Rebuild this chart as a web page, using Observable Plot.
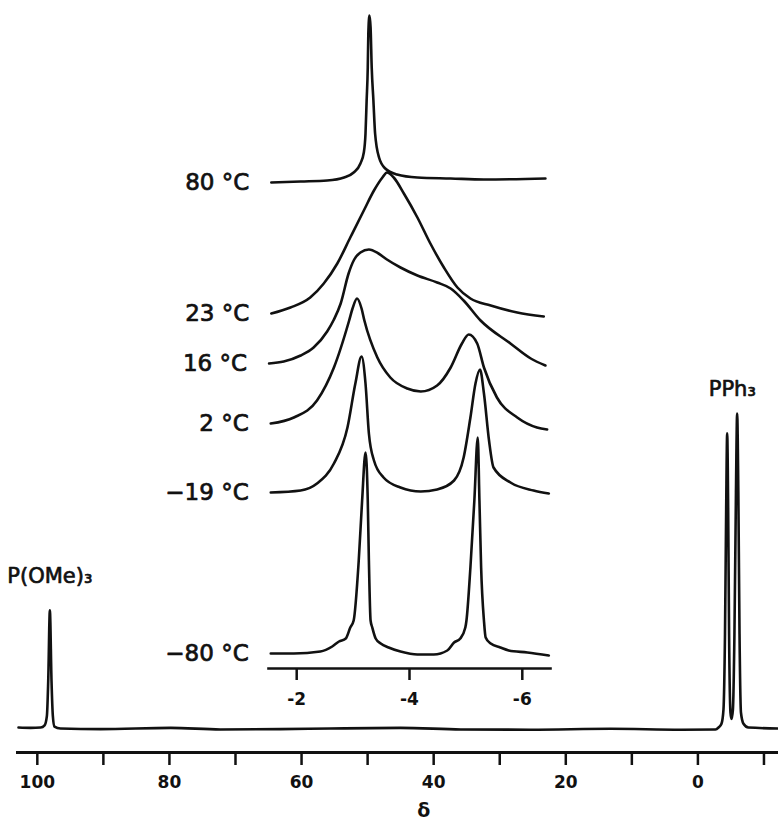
<!DOCTYPE html>
<html><head><meta charset="utf-8">
<script src="https://cdn.jsdelivr.net/npm/d3@7"></script>
<script src="https://cdn.jsdelivr.net/npm/@observablehq/plot@0.6"></script>
<style>
html,body{margin:0;padding:0;background:#fff;}
#chart{position:relative;width:778px;height:826px;overflow:hidden;}
#chart svg{position:absolute;left:0;top:0;}
</style></head><body><div id="chart"></div>
<script>
// ---- Main 31P spectrum: [delta (ppm), relative intensity] ----
const mainSpectrum = [
  [102.85,0.3],[101.0,0.2],[99.5,0.3],[98.9,1.0],[98.55,4],[98.35,15],[98.1,37.5],[97.85,15],[97.65,4],[97.4,0.6],
  [96.5,0],[90.4,-0.2],[79.8,0.2],[72.3,-0.3],[63.2,-0.2],[55.6,0],[45.0,0.2],[35.9,-0.3],[25.3,-0.4],[13.2,-0.1],
  [2.6,-0.4],[-2.66,-0.3],[-3.12,0.3],[-3.57,1.5],[-3.87,6],[-4.10,30],[-4.28,70],[-4.43,93.7],[-4.58,70],[-4.72,30],
  [-4.93,5],[-5.08,3],[-5.30,6],[-5.53,30],[-5.76,75],[-5.94,100],[-6.12,75],[-6.30,30],[-6.52,5],[-6.90,1.5],
  [-7.65,0.3],[-12.2,0]
];
const mainTicks = [100,90,80,70,60,50,40,30,20,10,0,-10];
const mainLabelEvery = 20;
const axisTitle = "δ";
const axisTitleAt = 41.5;
const peakNames = ["P(OMe)₃", "PPh₃"];
const peakWindows = [[90, 105], [-12, -2]];

// ---- Inset: variable-temperature traces, [delta (ppm), stacked intensity] ----
const temps = ["80 °C", "23 °C", "16 °C", "2 °C", "−19 °C", "−80 °C"];
const trace80 = [[-1.55,486],[-2.07,487],[-2.54,488],[-2.84,491],[-3.01,496],[-3.13,505],[-3.19,516],[-3.22,535],[-3.24,568],[-3.26,601],[-3.27,635],[-3.29,653],[-3.31,641],[-3.33,601],[-3.36,568],[-3.39,535],[-3.46,511],[-3.57,500],[-3.78,494],[-4.14,491],[-4.73,490],[-5.32,489],[-6.41,490]];
const trace23 = [[-1.55,355],[-1.89,361],[-2.24,371],[-2.48,385],[-2.72,405],[-2.95,431],[-3.19,458],[-3.37,478],[-3.52,491],[-3.60,496],[-3.72,491],[-3.90,475],[-4.14,451],[-4.37,425],[-4.61,401],[-4.85,381],[-5.08,370],[-5.44,363],[-5.91,356],[-6.38,352]];
const trace16 = [[-1.51,305],[-1.77,307],[-2.07,313],[-2.30,321],[-2.54,337],[-2.66,349],[-2.78,365],[-2.92,395],[-3.02,409],[-3.13,416],[-3.28,419],[-3.45,415],[-3.60,409],[-3.84,401],[-4.14,393],[-4.49,386],[-4.73,380],[-4.96,368],[-5.26,348],[-5.79,325],[-6.15,310],[-6.41,303]];
const trace2 = [[-1.54,245],[-1.95,251],[-2.36,268],[-2.66,301],[-2.93,348],[-2.99,360],[-3.07,370],[-3.15,360],[-3.20,348],[-3.43,311],[-3.66,291],[-3.96,280],[-4.20,277],[-4.49,283],[-4.73,301],[-4.93,325],[-5.05,334],[-5.20,325],[-5.32,301],[-5.55,271],[-5.91,251],[-6.26,241],[-6.44,239]];
const traceM19 = [[-1.54,176],[-2.07,178],[-2.36,185],[-2.66,205],[-2.90,241],[-3.04,285],[-3.15,312],[-3.22,285],[-3.28,235],[-3.37,208],[-3.54,191],[-3.84,181],[-4.20,177],[-4.49,179],[-4.79,188],[-4.96,211],[-5.08,251],[-5.17,285],[-5.25,299],[-5.32,275],[-5.41,228],[-5.49,201],[-5.79,186],[-6.20,178],[-6.47,175]];
const traceM80 = [[-1.54,15],[-1.95,15],[-2.42,17],[-2.63,22],[-2.75,27],[-2.87,30],[-2.95,41],[-3.01,48],[-3.10,108],[-3.16,168],[-3.22,216],[-3.26,168],[-3.28,108],[-3.31,48],[-3.34,41],[-3.40,30],[-3.49,25],[-3.63,21],[-3.84,17],[-4.14,14],[-4.43,14],[-4.67,18],[-4.79,26],[-4.90,30],[-4.99,41],[-5.01,48],[-5.08,101],[-5.15,168],[-5.21,231],[-5.24,168],[-5.27,101],[-5.32,48],[-5.35,31],[-5.44,25],[-5.61,21],[-5.76,18],[-6.09,16],[-6.47,13]];
const insetTicks = [-2, -4, -6];

// ---- build tables ----
const ink = "#111";
const traces = [trace80, trace23, trace16, trace2, traceM19, traceM80];
const insetData = traces.flatMap((t, i) => t.map(([delta, v]) => ({temp: temps[i], delta, v})));
const mainData = mainSpectrum.map(([delta, v]) => ({delta, v}));

// peak labels derived from the spectrum itself
const peakLabels = peakNames.map((name, i) => {
  const [lo, hi] = peakWindows[i];
  const pts = mainData.filter(d => d.delta >= lo && d.delta <= hi);
  const top = d3.max(pts, d => d.v);
  const strong = pts.filter(d => d.v >= top / 2);
  return {name, delta: d3.sum(strong, d => d.delta * d.v) / d3.sum(strong, d => d.v), v: top};
});

const labelStyle = {fontWeight: "normal", fill: ink, stroke: ink, strokeWidth: 0.7, paintOrder: "stroke"};

const main = Plot.plot({
  width: 778, height: 826,
  marginLeft: 17, marginRight: 0, marginTop: 413, marginBottom: 74,
  style: {background: "transparent", fontFamily: "'DejaVu Sans', sans-serif", fontSize: "17px", fontWeight: "bold", color: ink},
  x: {domain: [103, -12.2], label: null},
  y: {domain: [-7.62, 100], axis: null},
  marks: [
    Plot.frame({anchor: "bottom", stroke: ink, strokeWidth: 3}),
    Plot.axisX({ticks: mainTicks, tickSize: 13, tickPadding: 10, strokeWidth: 2.5, label: null,
      tickFormat: d => d % mainLabelEvery === 0 ? String(d) : ""}),
    Plot.line(mainData, {x: "delta", y: "v", curve: "monotone-x", stroke: ink, strokeWidth: 2.6}),
    Plot.text(peakLabels.slice(0, 1), {x: "delta", y: "v", text: "name", dy: -27, lineAnchor: "bottom",
      fontSize: 21, ...labelStyle}),
    Plot.text(peakLabels.slice(1), {x: "delta", y: "v", text: "name", dy: -18, lineAnchor: "bottom",
      fontSize: 21, ...labelStyle}),
    Plot.text([axisTitle], {x: () => axisTitleAt, text: d => d, frameAnchor: "bottom", dy: 58,
      lineAnchor: "middle", fontSize: 19, fontWeight: "bold", fill: ink})
  ]
});

const inset = Plot.plot({
  width: 778, height: 826,
  marginLeft: 268, marginRight: 228, marginTop: 8, marginBottom: 158,
  style: {background: "transparent", fontFamily: "'DejaVu Sans', sans-serif", fontSize: "17px", fontWeight: "bold", color: ink},
  x: {domain: [-1.5, -6.5], label: null},
  y: {domain: [0, 660], axis: null},
  marks: [
    Plot.frame({anchor: "bottom", stroke: ink, strokeWidth: 2.6}),
    Plot.axisX({ticks: insetTicks, tickSize: 12, tickPadding: 12, strokeWidth: 2.5, label: null,
      tickFormat: d => String(d)}),
    Plot.line(insetData, {x: "delta", y: "v", z: "temp", curve: "monotone-x", stroke: ink, strokeWidth: 2.6}),
    Plot.text(insetData, Plot.selectFirst({x: "delta", y: "v", z: "temp", text: "temp", textAnchor: "end",
      dx: -22, lineAnchor: "middle", fontSize: 23, ...labelStyle}))
  ]
});

document.getElementById("chart").append(main, inset);
</script></body></html>
